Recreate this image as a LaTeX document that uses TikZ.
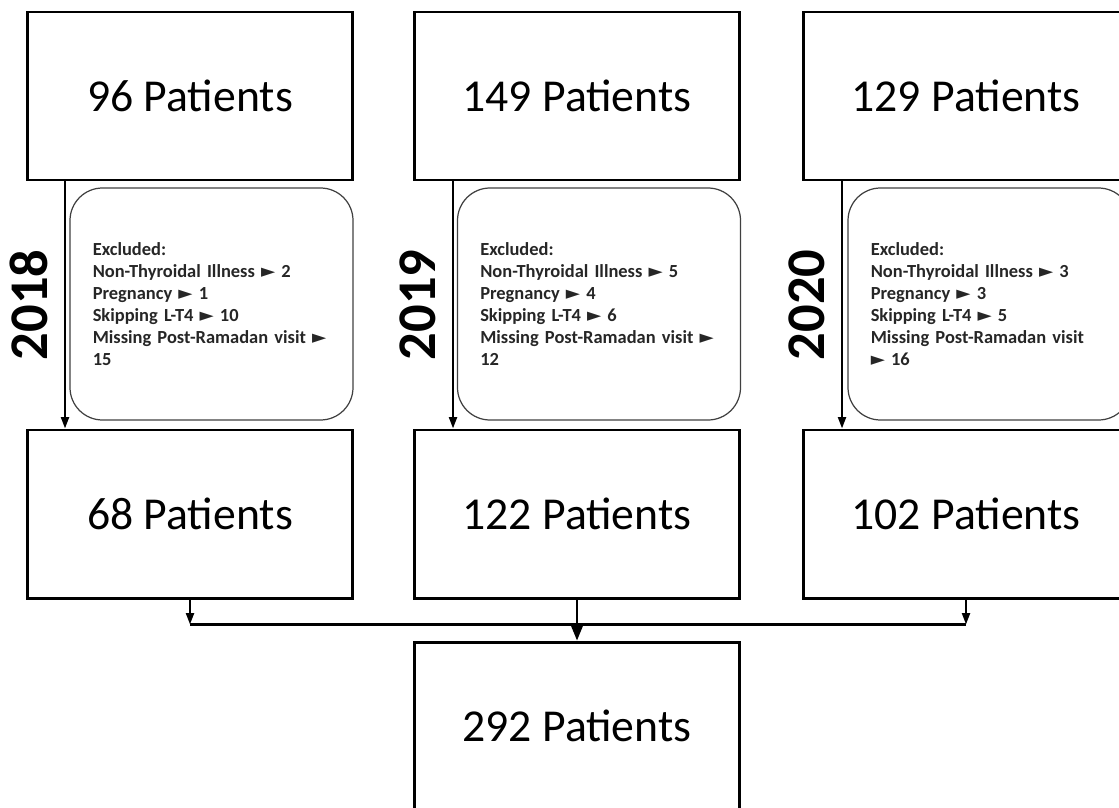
\documentclass[tikz,border=0pt]{standalone}
\usepackage{fontspec}
\setmainfont{Carlito}
\newfontfamily\symfont{DejaVu Sans}
\usetikzlibrary{arrows.meta,positioning,calc}
\newcommand{\tri}{{\symfont\fontsize{10.5}{10.5}\selectfont ►}}

\begin{document}
\begin{tikzpicture}[
  count/.style={rectangle, draw, line width=1.7pt, minimum width=6.5cm, minimum height=3.36cm, font=\fontsize{26}{30}\selectfont},
  excl/.style={rectangle, draw=black!75, line width=0.7pt, rounded corners=0.65cm, minimum width=5.66cm, minimum height=4.64cm,
    text width=4.75cm, inner xsep=0.45cm, align=left, text=black!85, font=\fontsize{10.5}{12.6}\selectfont\bfseries},
  year/.style={rotate=90, anchor=south, inner sep=9pt, font=\fontsize{31}{31}\selectfont\bfseries},
  arr/.style={-{Triangle[length=6.5pt, width=4.5pt]}, line width=1.3pt}
]
  \useasboundingbox (0,0) rectangle (22.38,-16.14);
  \clip (0,0) rectangle (22.38,-16.14);

  % yearly cohorts
  \node[count] (top1) at (3.8,-1.92) {96 Patients};
  \node[count] (top2) at (11.54,-1.92) {149 Patients};
  \node[count] (top3) at (19.32,-1.92) {129 Patients};

  \node[count] (bot1) at (3.8,-10.28) {68 Patients};
  \node[count] (bot2) at (11.54,-10.28) {122 Patients};
  \node[count] (bot3) at (19.32,-10.28) {102 Patients};

  \node[count] (total) at (11.54,-14.52) {292 Patients};

  % exclusions
  \node[excl] (ex1) at (4.23,-6.08) {Excluded:\\Non-Thyroidal Illness \tri\ 2\\Pregnancy \tri\ 1\\Skipping L-T4 \tri\ 10\\Missing Post-Ramadan visit \tri\\15};
  \node[excl] (ex2) at (11.98,-6.08) {Excluded:\\Non-Thyroidal Illness \tri\ 5\\Pregnancy \tri\ 4\\Skipping L-T4 \tri\ 6\\Missing Post-Ramadan visit \tri\\12};
  \node[excl] (ex3) at (19.79,-6.08) {Excluded:\\Non-Thyroidal Illness \tri\ 3\\Pregnancy \tri\ 3\\Skipping L-T4 \tri\ 5\\Missing Post-Ramadan visit\\\tri\ 16};

  \draw[arr] ([xshift=0.78cm]top1.south west) -- node[year] (yr1) {2018} ([xshift=0.78cm]bot1.north west);
  \draw[arr] ([xshift=0.8cm]top2.south west) -- node[year] (yr2) {2019} ([xshift=0.8cm]bot2.north west);
  \draw[arr] ([xshift=0.8cm]top3.south west) -- node[year] (yr3) {2020} ([xshift=0.8cm]bot3.north west);

  % pooling
  \coordinate (join) at ($(bot2.south)+(0,-0.5)$);
  \draw[arr] (bot1.south) -- (bot1.south |- join);
  \draw[arr] (bot3.south) -- (bot3.south |- join);
  \draw[line width=1.5pt] (bot1.south |- join) -- (bot3.south |- join);
  \draw[-{Triangle[length=9pt, width=7pt]}, line width=1.3pt] (bot2.south) -- (total.north);
\end{tikzpicture}
\end{document}
